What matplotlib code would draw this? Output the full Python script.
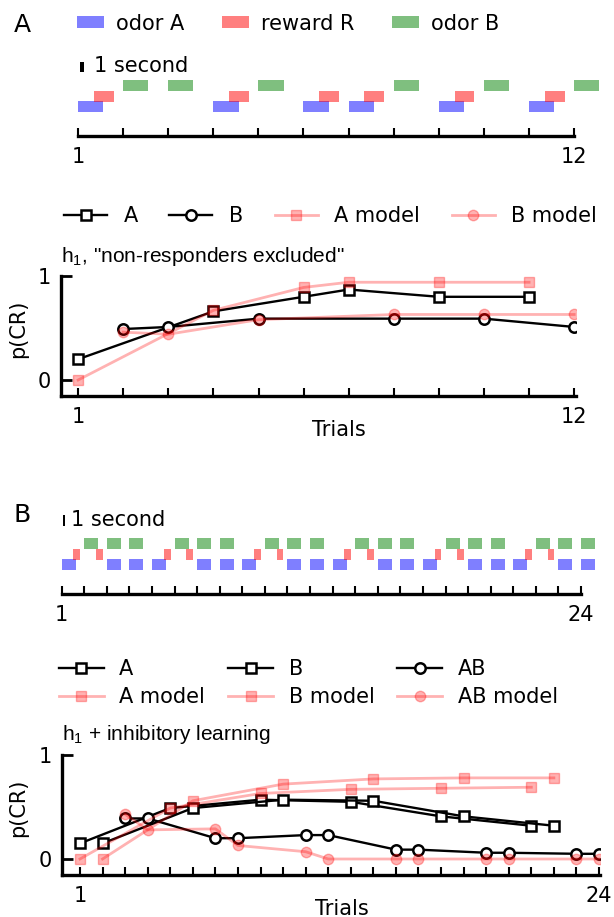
import numpy as np
import matplotlib.pyplot as plt

plt.rcParams['mathtext.fontset'] = 'custom'
plt.rcParams['mathtext.rm'] = 'Liberation Sans'
plt.rcParams['mathtext.default'] = 'regular'

# panel A: A+ / B+ trials
a_trials = [1, 4, 6, 7, 9, 11]
b_trials = [2, 3, 5, 8, 10, 12]
a_obs = [0.20, 0.66, 0.80, 0.87, 0.80, 0.80]
a_model = [0.0, 0.67, 0.89, 0.94, 0.94, 0.94]
b_obs = [0.49, 0.51, 0.59, 0.59, 0.59, 0.51]
b_model = [0.46, 0.44, 0.58, 0.63, 0.63, 0.63]

# panel B: A+ / B+ / AB- trials
A_trials = [1, 5, 9, 13, 17, 21]
B_trials = [2, 6, 10, 14, 18, 22]
AB_trials = [3, 4, 7, 8, 11, 12, 15, 16, 19, 20, 23, 24]
A_obs = [0.15, 0.49, 0.57, 0.55, 0.41, 0.32]
A_model = [0.0, 0.49, 0.63, 0.67, 0.68, 0.69]
B_obs = [0.15, 0.49, 0.57, 0.56, 0.41, 0.32]
B_model = [0.0, 0.56, 0.72, 0.77, 0.78, 0.78]
AB_obs = [0.39, 0.39, 0.20, 0.20, 0.23, 0.23, 0.09, 0.09, 0.06, 0.06, 0.05, 0.05]
AB_model = [0.43, 0.28, 0.29, 0.13, 0.07, 0.0, 0.0, 0.0, 0.0, 0.0, 0.0, 0.0]

W, H = 614, 917
FS = 15


def box(l, t, r, b):
    # pixel box -> figure fraction
    return [l / W, 1 - b / H, (r - l) / W, (b - t) / H]


def timeline(ax, odor_a, odor_b, reward, n, odor_w, rew_off, rew_w):
    ax.barh(2.4, odor_w, left=odor_a, height=1.1, align='edge', color='blue',
            alpha=0.5, lw=0, clip_on=False, label='odor A')
    ax.barh(3.45, rew_w, left=np.array(reward) + rew_off, height=1.1, align='edge',
            color='red', alpha=0.5, lw=0, clip_on=False, label='reward R')
    ax.barh(4.5, odor_w, left=odor_b, height=1.1, align='edge', color='green',
            alpha=0.5, lw=0, clip_on=False, label='odor B')
    ax.set_xlim(1, n)
    ax.set_ylim(0, 8)
    for s in ['left', 'top', 'right']:
        ax.spines[s].set_visible(False)
    ax.spines['bottom'].set_linewidth(2.4)
    ax.set_yticks([])
    ax.set_xticks(range(1, n + 1))
    ax.set_xticklabels([str(i) if i in (1, n) else '' for i in range(1, n + 1)])
    ax.tick_params(axis='x', direction='in', length=6, width=1.5, pad=8, labelsize=FS)


def style_plot(ax, n, xlo, xhi):
    ax.set_xlim(xlo, xhi)
    ax.set_ylim(-0.15, 1.0)
    for s in ['top', 'right']:
        ax.spines[s].set_visible(False)
    for s in ['left', 'bottom']:
        ax.spines[s].set_linewidth(2.4)
    ax.set_xticks(range(1, n + 1))
    ax.set_xticklabels([str(i) if i in (1, n) else '' for i in range(1, n + 1)])
    ax.set_yticks([0, 1])
    ax.tick_params(axis='x', direction='in', length=6, width=1.5, pad=8, labelsize=FS)
    ax.tick_params(axis='y', direction='in', length=8, width=2, pad=7, labelsize=FS)
    ax.set_xlabel('Trials', fontsize=FS)
    ax.set_ylabel('p(CR)', fontsize=FS)


fig = plt.figure(figsize=(W / 100, H / 100), dpi=100)

# ---------------- A timeline
ax1 = fig.add_axes(box(78, 56, 574, 136))
timeline(ax1, a_trials, b_trials, a_trials, 12, 0.56, 0.35, 0.44)
ax1.barh(6.4, 0.09, left=1.044, height=1.0, align='edge', color='black', clip_on=False)
ax1.text(1.355, 6.95, '1 second', va='center', fontsize=FS)
ax1.legend(loc='center left', bbox_to_anchor=(77 / W, 1 - 23.5 / H), bbox_transform=fig.transFigure,
           ncol=3, frameon=False, handlelength=1.3, handleheight=0.5, handletextpad=0.58,
           columnspacing=1.8, borderpad=0, borderaxespad=0, fontsize=FS)
fig.text(14 / W, 1 - 24.5 / H, 'A', fontsize=18, va='center')

# ---------------- A plot
ax2 = fig.add_axes(box(61, 276, 575.5, 395.6))
mk = dict(ms=7.5, mew=1.8, lw=1.7)
ax2.plot(a_trials, a_obs, '-s', color='black', mfc='white', label='A', **mk)
ax2.plot(b_trials, b_obs, '-o', color='black', mfc='white', label='B', **mk)
ax2.plot(a_trials, a_model, '-s', color='red', alpha=0.3, ms=7.5, lw=2, label='A model')
ax2.plot(b_trials, b_model, '-o', color='red', alpha=0.3, ms=7.5, lw=2, label='B model')
style_plot(ax2, 12, 0.62, 12.03)
ax2.xaxis.set_label_coords(0.54, -0.2)
ax2.yaxis.set_label_coords(-0.064, 0.56)
ax2.set_title(r'h$_1$, "non-responders excluded"', loc='left', fontsize=15,
              family='Liberation Sans', pad=10)
ax2.legend(loc='center left', bbox_to_anchor=(64 / W, 1 - 216 / H), bbox_transform=fig.transFigure,
           ncol=4, frameon=False, handlelength=2.07, handletextpad=0.8, columnspacing=1.5,
           borderpad=0, borderaxespad=0, fontsize=FS)

# ---------------- B timeline
ax3 = fig.add_axes(box(61.7, 514, 581, 594))
odor_a_B = sorted(A_trials + AB_trials)
odor_b_B = sorted(B_trials + AB_trials)
reward_B = sorted(A_trials + B_trials)
timeline(ax3, odor_a_B, odor_b_B, reward_B, 24, 0.62, 0.52, 0.3)
ax3.barh(6.83, 0.115, left=1.044, height=1.07, align='edge', color='black', clip_on=False)
ax3.text(1.40, 7.45, '1 second', va='center', fontsize=FS)
fig.text(14 / W, 1 - 515 / H, 'B', fontsize=18, va='center')

# ---------------- B plot
ax4 = fig.add_axes(box(61.7, 755, 599.9, 874.6))
l_a, = ax4.plot(A_trials, A_obs, '-s', color='black', mfc='white', label='A', **mk)
l_b, = ax4.plot(B_trials, B_obs, '-s', color='black', mfc='white', label='B', **mk)
l_ab, = ax4.plot(AB_trials, AB_obs, '-o', color='black', mfc='white', label='AB', **mk)
m_a, = ax4.plot(A_trials, A_model, '-s', color='red', alpha=0.3, ms=7.5, lw=2, label='A model')
m_b, = ax4.plot(B_trials, B_model, '-s', color='red', alpha=0.3, ms=7.5, lw=2, label='B model')
m_ab, = ax4.plot(AB_trials, AB_model, '-o', color='red', alpha=0.3, ms=7.5, lw=2, label='AB model')
style_plot(ax4, 24, 0.19, 24.04)
ax4.xaxis.set_label_coords(0.52, -0.2)
ax4.yaxis.set_label_coords(-0.062, 0.56)
ax4.set_title(r'h$_1$ + inhibitory learning', loc='left', fontsize=15,
              family='Liberation Sans', pad=11)
ax4.legend(handles=[l_a, m_a, l_b, m_b, l_ab, m_ab], loc='center left',
           bbox_to_anchor=(58.6 / W, 1 - 683 / H), bbox_transform=fig.transFigure,
           ncol=3, frameon=False, handlelength=2.16, handletextpad=0.75, columnspacing=1.1,
           labelspacing=0.4, borderpad=0, borderaxespad=0, fontsize=FS)

fig.savefig('out.png', dpi=100)
